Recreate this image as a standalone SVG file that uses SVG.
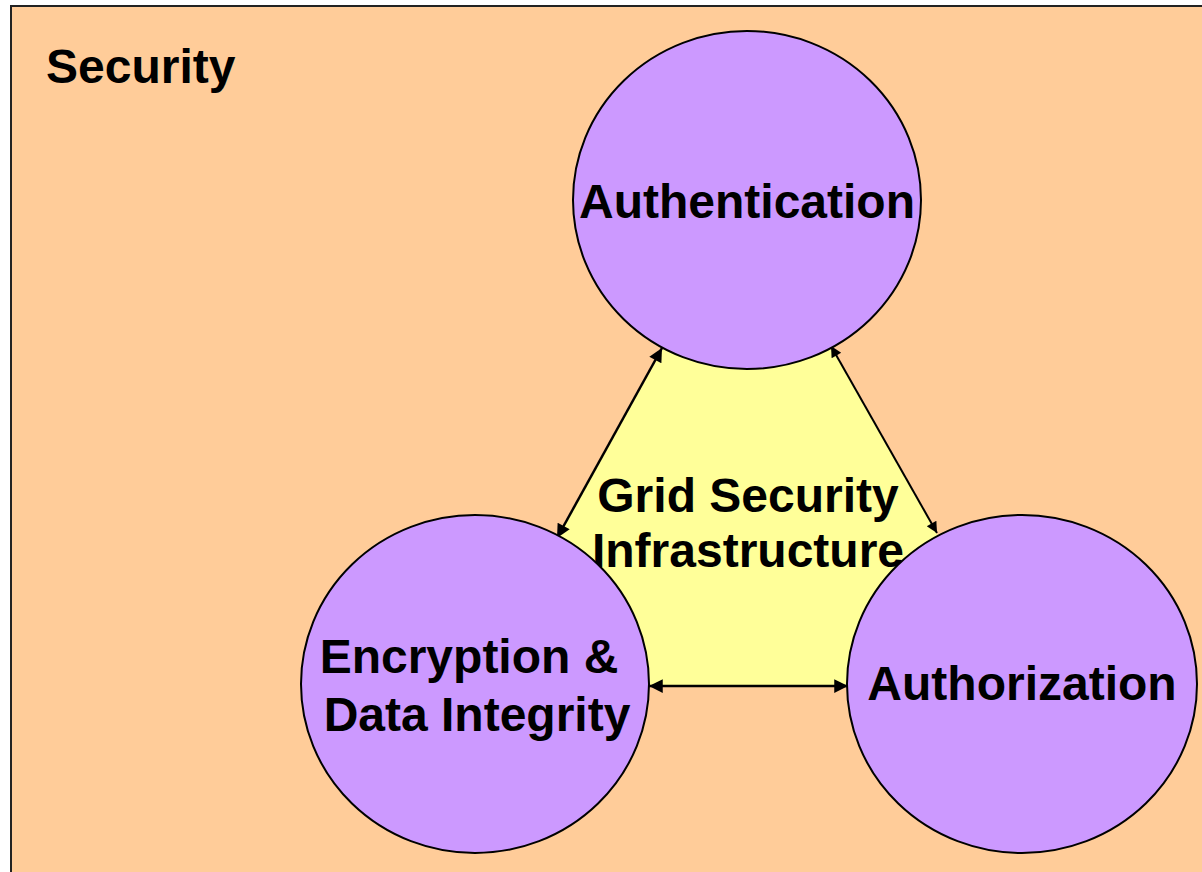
<svg xmlns="http://www.w3.org/2000/svg" width="1202" height="872" viewBox="0 0 1202 872">
<defs>
<marker id="ah" viewBox="0 0 10 10" refX="10" refY="5" markerWidth="6.5" markerHeight="5.5" orient="auto-start-reverse" markerUnits="strokeWidth">
<path d="M0,0 L10,5 L0,10 z" fill="#000"/>
</marker>
<style>
.lbl{font-family:"Liberation Sans",Arial,sans-serif;font-weight:bold;font-size:48px;fill:#000;text-anchor:middle}
.node{fill:#CC99FF;stroke:#000;stroke-width:2}
.conn{stroke:#000;stroke-width:2.5;fill:none;marker-start:url(#ah);marker-end:url(#ah)}
</style>
</defs>
<rect width="1202" height="872" fill="#fff"/>
<rect x="11" y="6" width="1200" height="880" fill="#FFCC99" stroke="#222" stroke-width="2"/>
<text x="46" y="83" class="lbl" style="text-anchor:start">Security</text>
<polygon points="747,198 475,686 1023,686" fill="#FFFF99"/>
<g id="connectors">
<line class="conn" x1="662" y1="348" x2="557" y2="538"/>
<line class="conn" x1="831" y1="346" x2="937" y2="533" style="stroke-width:2"/>
<line class="conn" x1="649" y1="686" x2="848" y2="686"/>
</g>
<text x="748" y="512" class="lbl">Grid Security</text>
<text x="748" y="567" class="lbl">Infrastructure</text>
<g id="authentication">
<ellipse class="node" cx="747" cy="200" rx="174" ry="169"/>
<text x="747" y="218" class="lbl">Authentication</text>
</g>
<g id="encryption">
<ellipse class="node" cx="475" cy="684" rx="174" ry="169"/>
<text x="469" y="673" class="lbl">Encryption &amp;</text>
<text x="477" y="731" class="lbl">Data Integrity</text>
</g>
<g id="authorization">
<ellipse class="node" cx="1022" cy="684" rx="175" ry="169"/>
<text x="1022" y="700" class="lbl">Authorization</text>
</g>
</svg>
